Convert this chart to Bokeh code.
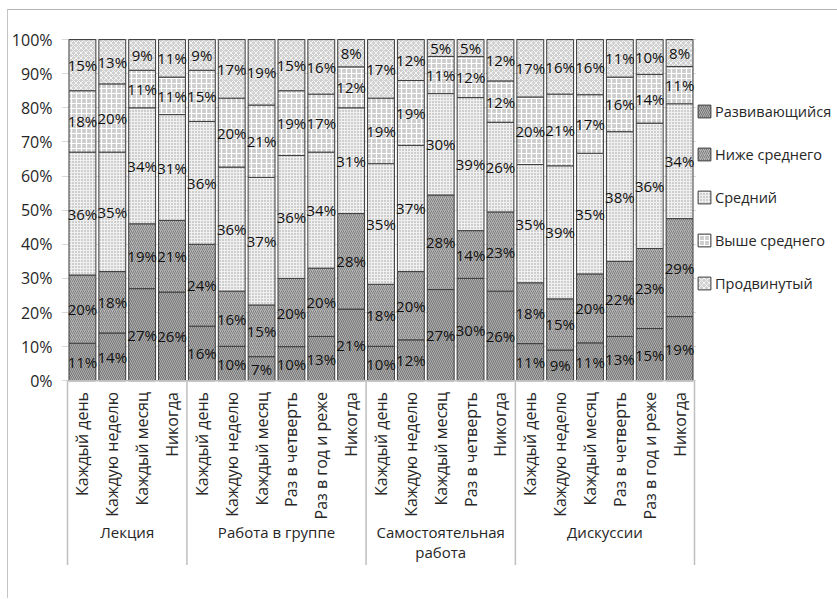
import numpy as np
from bokeh.plotting import figure
from bokeh.models import ColumnDataSource, Range1d, FixedTicker, NumeralTickFormatter, Legend, LegendItem
from bokeh.core.properties import value
from bokeh.embed import file_html
from bokeh.resources import INLINE

# ---------------- data ----------------
groups = ["Лекция", "Работа в группе", "Самостоятельная\nработа", "Дискуссии"]
group_categories = [
    ["Каждый день", "Каждую неделю", "Каждый месяц", "Никогда"],
    ["Каждый день", "Каждую неделю", "Каждый месяц", "Раз в четверть", "Раз в год и реже", "Никогда"],
    ["Каждый день", "Каждую неделю", "Каждый месяц", "Раз в четверть", "Никогда"],
    ["Каждый день", "Каждую неделю", "Каждый месяц", "Раз в четверть", "Раз в год и реже", "Никогда"],
]
series = ["Развивающийся", "Ниже среднего", "Средний", "Выше среднего", "Продвинутый"]  # bottom -> top

razv  = [11, 14, 27, 26, 16, 10, 7, 10, 13, 21, 10, 12, 27, 30, 26, 11, 9, 11, 13, 15, 19]
nizhe = [20, 18, 19, 21, 24, 16, 15, 20, 20, 28, 18, 20, 28, 14, 23, 18, 15, 20, 22, 23, 29]
sred  = [36, 35, 34, 31, 36, 36, 37, 36, 34, 31, 35, 37, 30, 39, 26, 35, 39, 35, 38, 36, 34]
vyshe = [18, 20, 11, 11, 15, 20, 21, 19, 17, 12, 19, 19, 11, 12, 12, 20, 21, 17, 16, 14, 11]
prod  = [15, 13, 9, 11, 9, 17, 19, 15, 16, 8, 17, 12, 5, 5, 12, 17, 16, 16, 11, 10, 8]

y_ticks = [0, 0.1, 0.2, 0.3, 0.4, 0.5, 0.6, 0.7, 0.8, 0.9, 1.0]

# ---------------- derived ----------------
FONT = "Open Sans"
TXT = "#262626"
cats = [c for g in group_categories for c in g]
n = len(cats)
xs = np.arange(n) + 0.5
vals = np.array([razv, nizhe, sred, vyshe, prod], dtype=float)
frac = vals / vals.sum(axis=0)
cum = np.vstack([np.zeros(n), np.cumsum(frac, axis=0)])

p = figure(frame_width=635, frame_height=548, margin=(9, 0, 0, 7),
           x_range=Range1d(-0.201, 21.067), y_range=Range1d(-0.6, 1.006),
           output_backend="svg", toolbar_location=None, x_axis_location=None,
           min_border_left=52, min_border_top=27, min_border_bottom=13, min_border_right=142)
p.styles = {"border-top": "1px solid #b4b4b4", "border-left": "1px solid #c4c4c4"}
p.outline_line_color = None
p.xgrid.visible = False
p.ygrid.ticker = FixedTicker(ticks=y_ticks)
p.ygrid.grid_line_color = "#d9d9d9"
p.yaxis.ticker = FixedTicker(ticks=y_ticks)
p.yaxis.formatter = NumeralTickFormatter(format="0%")
p.yaxis.axis_line_color = None
p.yaxis.major_tick_line_color = None
p.yaxis.minor_tick_line_color = None
p.yaxis.major_tick_out = 0
p.yaxis.major_tick_in = 0
p.yaxis.minor_tick_out = 0
p.yaxis.major_label_text_font = FONT
p.yaxis.major_label_text_font_size = "16px"
p.yaxis.major_label_text_color = TXT
p.yaxis.major_label_standoff = 9

styles = [
    dict(fill_color="#b0b0b0", hatch_pattern="left_diagonal_line", hatch_color="#666666", hatch_scale=4, hatch_weight=0.8),
    dict(fill_color="#b8b8b8", hatch_pattern="right_diagonal_line", hatch_color="#707070", hatch_scale=4, hatch_weight=0.8),
    dict(fill_color="#f0f0f0", hatch_pattern="dot", hatch_color="#9a9a9a", hatch_scale=3, hatch_weight=1),
    dict(fill_color="#cdcdcd", hatch_pattern="cross", hatch_color="#ffffff", hatch_scale=5, hatch_weight=1.2),
    dict(fill_color="#d0d0d0", hatch_pattern="diagonal_cross", hatch_color="#f4f4f4", hatch_scale=5, hatch_weight=1),
]

renderers = []
lx, ly, lt = [], [], []
for i, name in enumerate(series):
    src = ColumnDataSource(dict(x=xs, bottom=cum[i], top=cum[i + 1]))
    r = p.vbar(x="x", bottom="bottom", top="top", width=0.9, source=src,
               line_color="#3c3c3c", line_width=1, **styles[i])
    renderers.append(r)
    for j in range(n):
        lx.append(xs[j])
        ly.append((cum[i][j] + cum[i + 1][j]) / 2)
        lt.append(f"{int(vals[i][j])}%")

p.text(x=lx, y=ly, text=lt, text_align="center", text_baseline="middle",
       text_font=value(FONT), text_font_size="15px", text_color="#111111")

# x axis line and group separators
bounds = np.concatenate([[0], np.cumsum([len(g) for g in group_categories])])
p.segment(x0=[0], y0=[0], x1=[n], y1=[0], line_color="#bfbfbf", line_width=1.5)
p.segment(x0=bounds, y0=np.zeros(len(bounds)), x1=bounds, y1=np.full(len(bounds), -0.54),
          line_color="#bfbfbf", line_width=1.5)

# category labels
p.text(x=xs, y=np.full(n, -0.033), text=cats, angle=np.pi / 2, text_align="right",
       text_baseline="middle", text_font=value(FONT), text_font_size="16px", text_color=TXT)

# group labels
gx = (bounds[:-1] + bounds[1:]) / 2
p.text(x=gx, y=np.full(len(groups), -0.415), text=groups, text_align="center",
       text_baseline="top", text_font=value(FONT), text_font_size="15px", text_color=TXT,
       text_line_height=1.0)

legend = Legend(items=[LegendItem(label=s, renderers=[renderers[i]]) for i, s in enumerate(series)],
                location="top_left", orientation="vertical")
legend.title = " "
legend.title_text_font_size = "10px"
legend.title_standoff = 53
legend.border_line_color = None
legend.background_fill_alpha = 0
legend.padding = 0
legend.margin = 0
legend.spacing = 23
legend.glyph_width = 16
legend.glyph_height = 16
legend.label_height = 20
legend.label_standoff = 3
legend.label_text_font = FONT
legend.label_text_font_size = "14.5px"
legend.label_text_color = TXT
p.add_layout(legend, "right")

open("out.html", "w").write(file_html(p, INLINE))
